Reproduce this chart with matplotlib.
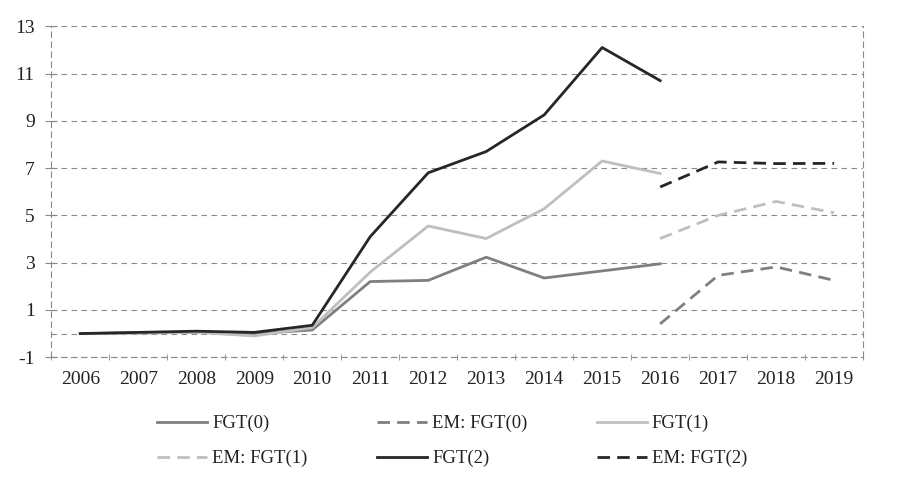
import matplotlib
matplotlib.use('Agg')
from matplotlib import pyplot as plt
import numpy as np

plt.rcParams['font.family'] = ['Liberation Serif', 'DejaVu Serif']
plt.rcParams['axes.unicode_minus'] = False

years = ['2006', '2007', '2008', '2009', '2010', '2011', '2012',
         '2013', '2014', '2015', '2016', '2017', '2018', '2019']

# observed series 2006-2016
fgt0 = [0.0, 0.03, 0.05, 0.0, 0.15, 2.2, 2.25, 3.23, 2.35, 2.65, 2.95]
fgt1 = [0.0, 0.02, 0.05, -0.1, 0.25, 2.6, 4.55, 4.02, 5.28, 7.3, 6.77]
fgt2 = [0.0, 0.05, 0.1, 0.05, 0.35, 4.1, 6.8, 7.7, 9.25, 12.1, 10.7]

# EM estimates 2016-2019
em_fgt0 = [0.41, 2.46, 2.82, 2.25]
em_fgt1 = [4.02, 5.0, 5.59, 5.11]
em_fgt2 = [6.2, 7.26, 7.19, 7.2]

x_obs = np.arange(len(fgt0))
x_em = np.arange(10, 14)

c0 = '#7f7f7f'
c1 = '#bfbfbf'
c2 = '#262626'
lw = 2.0
dash = (4.5, 2.6)

fig = plt.figure(figsize=(9, 4.86), dpi=100)
ax = fig.add_axes([0.057, 0.265, 0.902, 0.681])

# grid
for v in [-1, 0, 1, 3, 5, 7, 9, 11, 13]:
    ax.axhline(v, color='#8a8a8a', lw=0.8, ls=(0, (5, 4)), zorder=1)

h = []
h += ax.plot(x_obs, fgt0, color=c0, lw=lw, label='FGT(0)', zorder=3)
h += ax.plot(x_em, em_fgt0, color=c0, lw=lw, dashes=dash, label='EM: FGT(0)', zorder=3)
h += ax.plot(x_obs, fgt1, color=c1, lw=lw, label='FGT(1)', zorder=3)
h += ax.plot(x_em, em_fgt1, color=c1, lw=lw, dashes=dash, label='EM: FGT(1)', zorder=3)
h += ax.plot(x_obs, fgt2, color=c2, lw=lw, label='FGT(2)', zorder=3)
h += ax.plot(x_em, em_fgt2, color=c2, lw=lw, dashes=dash, label='EM: FGT(2)', zorder=3)

ax.set_xlim(-0.5, 13.5)
ax.set_ylim(-1, 13)
ax.set_yticks([-1, 1, 3, 5, 7, 9, 11, 13])
ax.set_xticks(np.arange(14))
ax.set_xticklabels(years)
ax.set_xticks(np.arange(-0.5, 14, 1), minor=True)
ax.tick_params(axis='x', which='major', length=0, labelsize=14, pad=10, colors='#222222')
ax.tick_params(axis='x', which='minor', length=5, direction='inout', color='#8a8a8a')
ax.tick_params(axis='y', length=8, direction='inout', labelsize=14, pad=8, colors='#222222')
ax.tick_params(axis='y', color='#8a8a8a')

for s in ['left', 'right', 'bottom']:
    ax.spines[s].set_linestyle((0, (5, 4)))
    ax.spines[s].set_color('#8a8a8a')
    ax.spines[s].set_linewidth(0.8)
ax.spines['top'].set_visible(False)

order = [0, 3, 1, 4, 2, 5]
leg = fig.legend([h[i] for i in order], [h[i].get_label() for i in order],
                 ncol=3, loc='upper left', bbox_to_anchor=(0.1744, 0.146),
                 frameon=False, fontsize=13.5, handlelength=2.67, handletextpad=0.27,
                 columnspacing=3.7, labelspacing=0.95, borderpad=0, borderaxespad=0)
for t in leg.get_texts():
    t.set_color('#222222')

fig.savefig('out.png', dpi=100)
